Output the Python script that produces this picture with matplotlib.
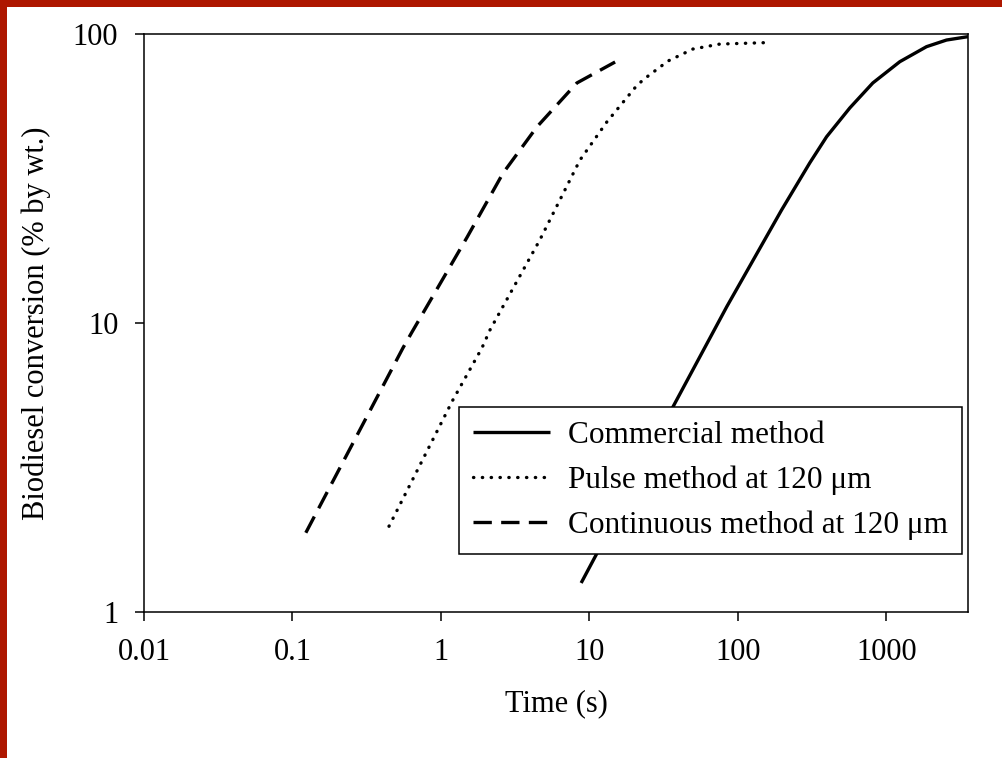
import numpy as np
import matplotlib
matplotlib.use("Agg")
import matplotlib.pyplot as plt
from matplotlib.patches import Rectangle
from matplotlib.ticker import FixedLocator, FuncFormatter, NullLocator

plt.rcParams['font.family'] = ['Liberation Serif', 'DejaVu Serif']

# values (time in s, conversion in % by wt.)
commercial_t = [8.8, 11.2, 37.1, 84.3, 197, 305, 396, 568, 811, 1233, 1866, 2543, 3550]
commercial_c = [1.26, 1.59, 5.2, 11.4, 24.6, 35.8, 44.1, 55.5, 67.7, 80.2, 90.4, 95.3, 97.9]

pulse_t = [0.447, 1.2, 1.89, 2.14, 4.64, 8.63, 13.1, 20.2, 22.9, 33.8, 49.8, 75.7, 150]
pulse_c = [1.98, 5.4, 8.2, 9.46, 19.4, 36.6, 49.6, 65, 69.3, 80.6, 88.7, 92.3, 93.3]

continuous_t = [0.123, 0.555, 0.638, 1.50, 2.62, 4.43, 8.24, 14.9]
continuous_c = [1.88, 8.2, 9.3, 19.8, 33, 47.7, 67.7, 80]

labels = ['Commercial method', 'Pulse method at 120 \u03bcm', 'Continuous method at 120 \u03bcm']
x_ticks = [0.01, 0.1, 1, 10, 100, 1000]
y_ticks = [1, 10, 100]

fig = plt.figure(figsize=(10.03, 7.58), dpi=100)
fig.patch.set_facecolor('white')
# red frame strips on left and top
fig.patches.append(Rectangle((0, 0), 7.5 / 1003, 1, transform=fig.transFigure,
                             facecolor='#ae1700', edgecolor='none'))
fig.patches.append(Rectangle((0, 1 - 7 / 758), 1, 7 / 758, transform=fig.transFigure,
                             facecolor='#ae1700', edgecolor='none'))

ax = fig.add_axes([144 / 1003, (758 - 612) / 758, (968 - 144) / 1003, (612 - 34) / 758])

ax.plot(commercial_t, commercial_c, color='black', lw=2.4, solid_capstyle='butt',
        solid_joinstyle='round', label=labels[0])
ax.plot(pulse_t, pulse_c, color='black', lw=2.4, linestyle=(0, (0.1, 2.55)),
        dash_capstyle='round', label=labels[1])
ax.plot(continuous_t, continuous_c, color='black', lw=2.4, linestyle=(0, (5.5, 2.8)),
        dash_joinstyle='round', label=labels[2])

ax.set_xscale('log')
ax.set_yscale('log')
ax.set_xlim(0.01, 3550)
ax.set_ylim(1, 100)

ax.xaxis.set_major_locator(FixedLocator(x_ticks))
ax.yaxis.set_major_locator(FixedLocator(y_ticks))
ax.xaxis.set_minor_locator(NullLocator())
ax.yaxis.set_minor_locator(NullLocator())
ax.xaxis.set_major_formatter(FuncFormatter(lambda v, p: '{:g}'.format(v)))
ax.yaxis.set_major_formatter(FuncFormatter(lambda v, p: '{:g}'.format(v)))

ax.tick_params(axis='both', which='major', direction='out', length=6.5, width=1.1,
               labelsize=22, color='black')
ax.tick_params(axis='x', pad=12)
ax.tick_params(axis='y', pad=12)
for s in ax.spines.values():
    s.set_linewidth(1.1)
    s.set_color('black')

ax.set_xlabel('Time (s)', fontsize=22, labelpad=16)
ax.set_ylabel('Biodiesel conversion (% by wt.)', fontsize=22, labelpad=16)

leg = ax.legend(loc='lower right', bbox_to_anchor=(0.9927, 0.1003), borderaxespad=0,
                fontsize=22.5, frameon=True, fancybox=False, framealpha=1,
                handlelength=2.46, handletextpad=0.58, labelspacing=0.49, borderpad=0.45)
leg.get_frame().set_edgecolor('black')
leg.get_frame().set_linewidth(1.1)
leg.set_zorder(5)

fig.savefig('out.png', dpi=100, facecolor='white')
